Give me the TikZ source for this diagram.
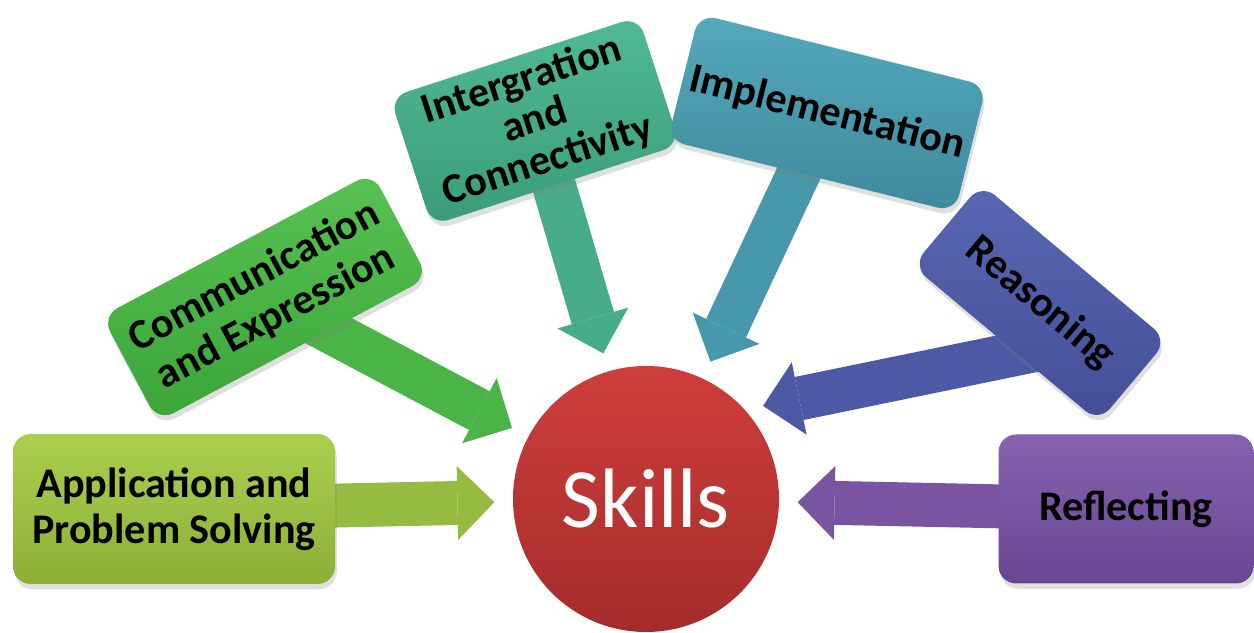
\documentclass[tikz,border=0pt]{standalone}
\usepackage{fontspec}
\setmainfont{Carlito}
\usetikzlibrary{%
	arrows.meta,%
	shadows,%
	backgrounds%
}
\definecolor{appT}{HTML}{AACF4E}
\definecolor{appB}{HTML}{8CB038}
\definecolor{appA}{HTML}{95BC40}
\definecolor{comT}{HTML}{58C152}
\definecolor{comB}{HTML}{3CA53A}
\definecolor{comA}{HTML}{4BB447}
\definecolor{intT}{HTML}{50BA93}
\definecolor{intB}{HTML}{3A9C7A}
\definecolor{intA}{HTML}{46AD88}
\definecolor{impT}{HTML}{54A9BB}
\definecolor{impB}{HTML}{3E8A9C}
\definecolor{impA}{HTML}{4898AB}
\definecolor{reaT}{HTML}{5867B2}
\definecolor{reaB}{HTML}{434F97}
\definecolor{reaA}{HTML}{4C5AA5}
\definecolor{refT}{HTML}{8563AE}
\definecolor{refB}{HTML}{684690}
\definecolor{refA}{HTML}{7954A0}
\definecolor{sklT}{HTML}{CE3E3C}
\definecolor{sklB}{HTML}{A42C2A}

\tikzset{
	skillbox/.style={rounded corners=5pt, align=center, inner sep=2pt,
		font=\bfseries\fontsize{12}{13}\selectfont,
		drop shadow={opacity=0.25, shadow xshift=0.5pt, shadow yshift=-1.5pt}},
	fatarrow/.style={line width=12.5pt, shorten >=0.18cm,
		-{Triangle[length=10.5pt, width=21pt, line width=0pt]}},
}

\begin{document}
\begin{tikzpicture}
		\useasboundingbox (0,0) rectangle (12.54,6.33);
		\node[circle, minimum size=2.66cm, top color=sklT, bottom color=sklB,
			text=white, font=\fontsize{24}{28}\selectfont] (skills) at (6.46,1.34) {Skills};
		\node[skillbox, top color=appT, bottom color=appB, minimum width=3.22cm,
			minimum height=1.50cm] (app) at (1.74,1.24) {Application and\\Problem Solving};
		\node[skillbox, top color=comT, bottom color=comB, minimum width=3.06cm,
			minimum height=1.19cm, rotate=28] (comm) at (2.65,3.36) {Communication\\and Expression};
		\node[skillbox, top color=intT, bottom color=intB, minimum width=2.61cm,
			minimum height=1.23cm, rotate=18, font=\bfseries\fontsize{12}{12}\selectfont]
			(integ) at (5.35,5.12) {Intergration\\and\\Connectivity};
		\node[skillbox, top color=impT, bottom color=impB, minimum width=2.77cm,
			minimum height=1.30cm, rotate=-14] (impl) at (8.27,5.20) {Implementation};
		\node[skillbox, top color=reaT, bottom color=reaB, minimum width=2.43cm,
			minimum height=1.07cm, rotate=-40] (reason) at (10.40,3.30) {Reasoning};
		\node[skillbox, top color=refT, bottom color=refB, minimum width=2.55cm,
			minimum height=1.49cm] (reflect) at (11.26,1.24) {Reflecting};
		\begin{scope}[on background layer]
			\draw[fatarrow, appA] (app.center) -- (skills);
			\draw[fatarrow, comA] (comm.center) -- (skills);
			\draw[fatarrow, intA] (integ.center) -- (skills);
			\draw[fatarrow, impA] (impl.center) -- (skills);
			\draw[fatarrow, reaA] ([yshift=-0.46cm]reason.center) -- (skills.42);
			\draw[fatarrow, refA] (reflect.center) -- (skills);
		\end{scope}
	\end{tikzpicture}
\end{document}
